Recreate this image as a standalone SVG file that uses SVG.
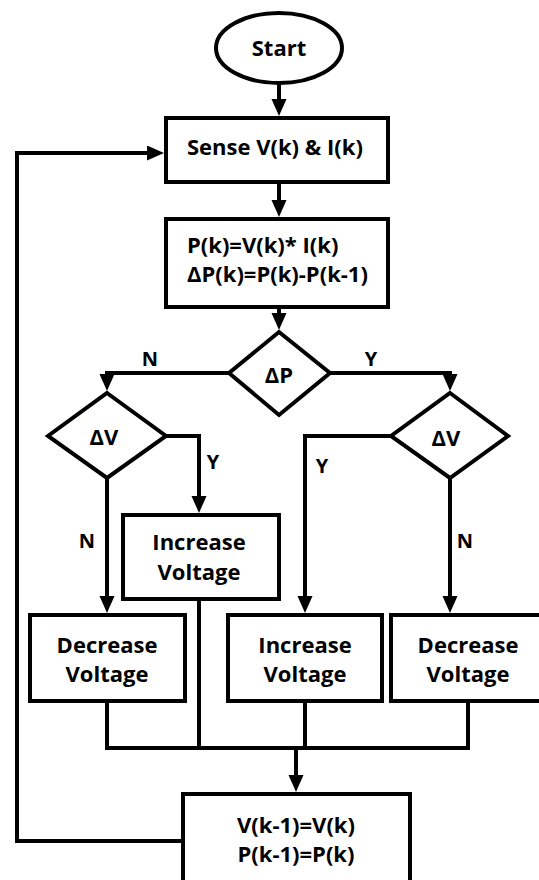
<svg xmlns="http://www.w3.org/2000/svg" width="539" height="880" viewBox="0 0 539 880">
<style>
.shape{fill:#fff;stroke:#000;stroke-width:4}
.wire{fill:none;stroke:#000;stroke-width:4;stroke-linejoin:miter}
text{font-family:"Open Sans","Liberation Sans",sans-serif;font-weight:bold;font-size:22px;fill:#000}
.c{text-anchor:middle}
.lbl{font-size:20px;text-anchor:middle}
</style>
<defs>
<marker id="ah" markerUnits="userSpaceOnUse" markerWidth="18" markerHeight="16" refX="7" refY="7.5" orient="auto">
<path d="M0,0 L17,7.5 L0,15 z" fill="#000"/>
</marker>
</defs>
<rect width="539" height="880" fill="#fff"/>
<g id="connectors">
<polyline class="wire" points="279,83 279,106" marker-end="url(#ah)"/>
<polyline class="wire" points="279,182 279,207" marker-end="url(#ah)"/>
<polyline class="wire" points="279,307 279,320" marker-end="url(#ah)"/>
<polyline class="wire" points="229,373 107,373 107,381" marker-end="url(#ah)"/>
<polyline class="wire" points="330,373 450,373 450,381" marker-end="url(#ah)"/>
<polyline class="wire" points="166,436 199,436 199,503" marker-end="url(#ah)"/>
<polyline class="wire" points="107,478 107,603" marker-end="url(#ah)"/>
<polyline class="wire" points="391,436 305,436 305,603" marker-end="url(#ah)"/>
<polyline class="wire" points="450,478 450,603" marker-end="url(#ah)"/>
<polyline class="wire" points="107,701 107,748 468,748 468,701"/>
<polyline class="wire" points="305,701 305,750"/>
<polyline class="wire" points="199,599 199,750"/>
<polyline class="wire" points="296,748 296,782" marker-end="url(#ah)"/>
<polyline class="wire" points="183,841 17,841 17,153 154,153" marker-end="url(#ah)"/>
<text class="lbl" x="150" y="366">N</text>
<text class="lbl" x="371" y="366">Y</text>
<text class="lbl" x="213" y="469">Y</text>
<text class="lbl" x="87" y="548">N</text>
<text class="lbl" x="322" y="473">Y</text>
<text class="lbl" x="465" y="548">N</text>
</g>
<g id="start">
<ellipse class="shape" cx="279" cy="48" rx="63" ry="35"/>
<text class="c" x="279" y="56">Start</text>
</g>
<g id="sense">
<rect class="shape" x="166" y="118" width="222" height="64"/>
<text x="187" y="155">Sense V(k) &amp; I(k)</text>
</g>
<g id="power">
<rect class="shape" x="166" y="219" width="222" height="88"/>
<text x="187" y="253">P(k)=V(k)* I(k)</text>
<text x="187" y="282">ΔP(k)=P(k)-P(k-1)</text>
</g>
<g id="dP">
<polygon class="shape" points="279,332 330,373 279,415 229,373"/>
<text class="c" x="279" y="383">ΔP</text>
</g>
<g id="dV-left">
<polygon class="shape" points="107,393 166,436 107,478 48,436"/>
<text class="c" x="104" y="445">ΔV</text>
</g>
<g id="dV-right">
<polygon class="shape" points="450,393 508,436 450,478 391,436"/>
<text class="c" x="446" y="446">ΔV</text>
</g>
<g id="inc-mid">
<rect class="shape" x="123" y="515" width="156" height="84"/>
<text class="c" x="199" y="550">Increase</text>
<text class="c" x="199" y="580">Voltage</text>
</g>
<g id="dec-left">
<rect class="shape" x="30" y="615" width="155" height="86"/>
<text class="c" x="107" y="653">Decrease</text>
<text class="c" x="107" y="682">Voltage</text>
</g>
<g id="inc-right">
<rect class="shape" x="228" y="615" width="154" height="86"/>
<text class="c" x="305" y="653">Increase</text>
<text class="c" x="305" y="682">Voltage</text>
</g>
<g id="dec-right">
<rect class="shape" x="391" y="615" width="154" height="86"/>
<text class="c" x="468" y="653">Decrease</text>
<text class="c" x="468" y="682">Voltage</text>
</g>
<g id="update">
<rect class="shape" x="183" y="794" width="227" height="100"/>
<text class="c" x="296" y="833">V(k-1)=V(k)</text>
<text class="c" x="296" y="862">P(k-1)=P(k)</text>
</g>
</svg>
